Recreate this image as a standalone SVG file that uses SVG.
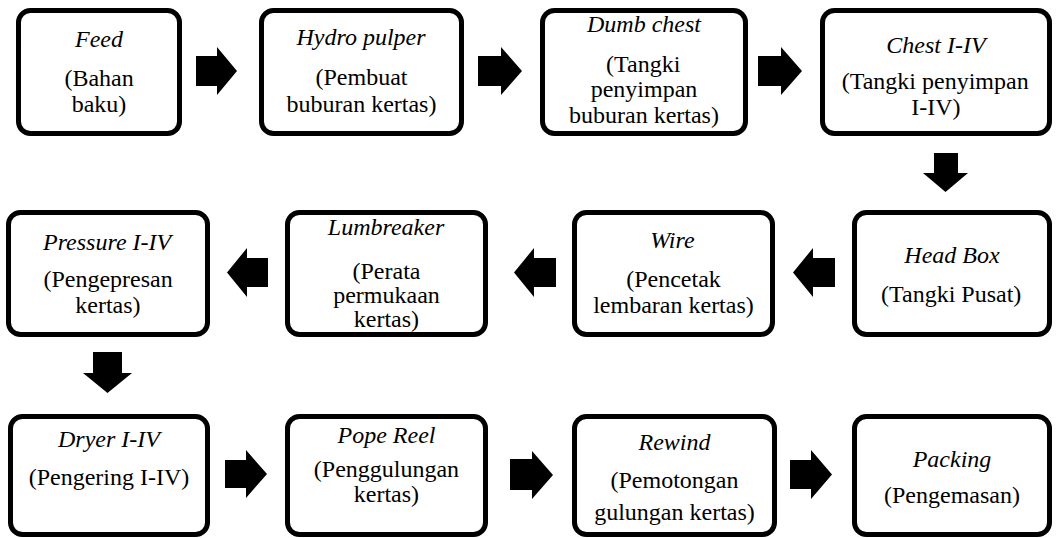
<svg xmlns="http://www.w3.org/2000/svg" width="1060" height="538" viewBox="0 0 1060 538">
<rect width="1060" height="538" fill="#fff"/>
<g id="connectors" fill="#000">
<polygon points="196,56 217,56 217,47 237,71 217,95 217,86 196,86"/>
<polygon points="478,56 501,56 501,47 522,71 501,95 501,86 478,86"/>
<polygon points="758,56 781,56 781,47 802,71 781,95 781,86 758,86"/>
<polygon points="934,153 958,153 958,173 968,173 945.5,192 923,173 934,173"/>
<polygon points="835,258 813,258 813,248 793,272.5 813,297 813,287 835,287"/>
<polygon points="556,258 534,258 534,248 514,272.5 534,297 534,287 556,287"/>
<polygon points="268,258 247,258 247,248 227,272.5 247,297 247,287 268,287"/>
<polygon points="93,352 122,352 122,373 132,373 107.5,393 83,373 93,373"/>
<polygon points="225,460 246,460 246,450 267,474 246,498 246,488 225,488"/>
<polygon points="510,459 532,459 532,451 553,475 532,499 532,490 510,490"/>
<polygon points="790,460 811,460 811,450 832,474.5 811,499 811,489 790,489"/>
</g>
<g id="boxes" fill="#fff" stroke="#000" stroke-width="5">
<rect id="feed-box" x="18.5" y="10.5" width="161" height="123" rx="12"/>
<rect id="hydro-pulper-box" x="261.5" y="10.5" width="200" height="123" rx="12"/>
<rect id="dumb-chest-box" x="542.5" y="10.5" width="203" height="123" rx="12"/>
<rect id="chest-box" x="822.5" y="10.5" width="227" height="123" rx="12"/>
<rect id="head-box-box" x="854.5" y="212.5" width="195" height="122" rx="12"/>
<rect id="wire-box" x="574.5" y="212.5" width="198" height="122" rx="12"/>
<rect id="lumbreaker-box" x="287.5" y="212.5" width="198" height="122" rx="12"/>
<rect id="pressure-box" x="8.5" y="212.5" width="199" height="122" rx="12"/>
<rect id="dryer-box" x="10.5" y="416.5" width="197" height="118" rx="12"/>
<rect id="pope-reel-box" x="287.5" y="416.5" width="198" height="118" rx="12"/>
<rect id="rewind-box" x="574.5" y="416.5" width="200" height="118" rx="12"/>
<rect id="packing-box" x="854.5" y="416.5" width="195" height="118" rx="12"/>
</g>
<g font-size="24">
<text font-family="Liberation Serif" font-style="italic" x="75" y="47">Feed</text>
<text font-family="Liberation Serif" x="64.4" y="86">(Bahan</text>
<text font-family="Liberation Serif" x="71.7" y="112">baku)</text>
<text font-family="Liberation Serif" font-style="italic" x="296.5" y="45">Hydro pulper</text>
<text font-family="Liberation Serif" x="315.5" y="85">(Pembuat</text>
<text font-family="Liberation Serif" x="286.5" y="112">buburan kertas)</text>
<text font-family="Liberation Serif" font-style="italic" x="587" y="32">Dumb chest</text>
<text font-family="Liberation Serif" x="606" y="72">(Tangki</text>
<text font-family="Liberation Serif" x="590.7" y="97">penyimpan</text>
<text font-family="Liberation Serif" x="569" y="123">buburan kertas)</text>
<text font-family="Liberation Serif" font-style="italic" x="886.3" y="53">Chest I-IV</text>
<text font-family="Liberation Serif" x="841.7" y="89">(Tangki penyimpan</text>
<text font-family="Liberation Serif" x="911.3" y="115">I-IV)</text>
<text font-family="Liberation Serif" font-style="italic" x="904.3" y="263">Head Box</text>
<text font-family="Liberation Serif" x="881" y="302">(Tangki Pusat)</text>
<text font-family="Liberation Serif" font-style="italic" x="650.2" y="248">Wire</text>
<text font-family="Liberation Serif" x="626.2" y="287">(Pencetak</text>
<text font-family="Liberation Serif" x="593.2" y="313">lembaran kertas)</text>
<text font-family="Liberation Serif" font-style="italic" x="327.8" y="235">Lumbreaker</text>
<text font-family="Liberation Serif" x="352.5" y="279">(Perata</text>
<text font-family="Liberation Serif" x="333.2" y="303">permukaan</text>
<text font-family="Liberation Serif" x="353.8" y="327">kertas)</text>
<text font-family="Liberation Serif" font-style="italic" x="43" y="250">Pressure I-IV</text>
<text font-family="Liberation Serif" x="43.4" y="287">(Pengepresan</text>
<text font-family="Liberation Serif" x="75.3" y="313">kertas)</text>
<text font-family="Liberation Serif" font-style="italic" x="58" y="447">Dryer I-IV</text>
<text font-family="Liberation Serif" x="28.7" y="485">(Pengering I-IV)</text>
<text font-family="Liberation Serif" font-style="italic" x="337.5" y="443">Pope Reel</text>
<text font-family="Liberation Serif" x="313.8" y="477">(Penggulungan</text>
<text font-family="Liberation Serif" x="353.8" y="502">kertas)</text>
<text font-family="Liberation Serif" font-style="italic" x="638.5" y="450">Rewind</text>
<text font-family="Liberation Serif" x="610.5" y="488">(Pemotongan</text>
<text font-family="Liberation Serif" x="594.2" y="520">gulungan kertas)</text>
<text font-family="Liberation Serif" font-style="italic" x="912.7" y="467">Packing</text>
<text font-family="Liberation Serif" x="884" y="503">(Pengemasan)</text>
</g>
</svg>
